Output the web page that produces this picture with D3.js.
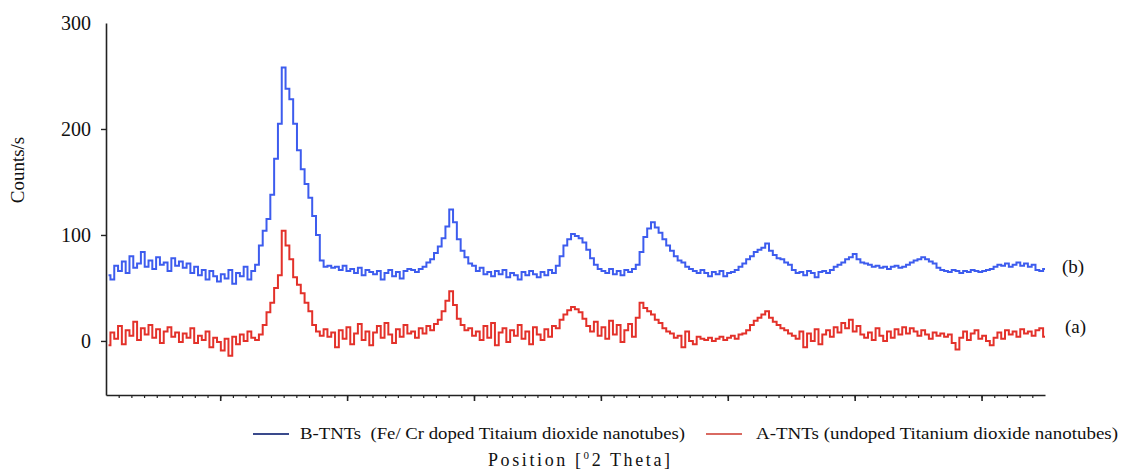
<!DOCTYPE html>
<html>
<head>
<meta charset="utf-8">
<script src="https://cdn.jsdelivr.net/npm/d3@7"></script>
<style>
  body { margin: 0; background: #fff; }
  svg { display: block; font-family: "Liberation Serif", "Times New Roman", serif; }
</style>
</head>
<body>
<div id="chart"></div>
<script>
// scan grid (degrees 2 theta)
const twoThetaStart = 11.2;
const twoThetaStep = 0.3;

// B-TNTs counts/s
const bTNTs = [
  62, 58, 71, 66, 75, 64, 80, 69, 73, 84,
  70, 76, 68, 79, 72, 74, 66, 78, 71, 75,
  69, 73, 64, 70, 62, 67, 58, 66, 61, 56,
  63, 59, 67, 54, 64, 61, 70, 58, 66, 72,
  90, 104, 115, 138, 172, 205, 258, 238, 228, 205,
  180, 162, 148, 135, 118, 100, 76, 70, 71, 69,
  70, 67, 71, 66, 68, 64, 69, 62, 67, 65,
  63, 66, 58, 64, 67, 61, 65, 59, 66, 68,
  67, 65, 68, 70, 74, 77, 83, 89, 97, 108,
  124, 112, 96, 85, 79, 73, 71, 66, 69, 63,
  65, 61, 66, 63, 67, 60, 64, 62, 58, 65,
  62, 66, 63, 60, 65, 62, 67, 64, 71, 80,
  90, 96, 101, 99, 97, 93, 86, 78, 72, 68,
  66, 64, 68, 63, 66, 62, 67, 65, 68, 72,
  84, 98, 106, 112, 107, 102, 96, 90, 85, 80,
  76, 74, 70, 68, 66, 64, 67, 64, 61, 65,
  63, 66, 61, 64, 65, 67, 70, 73, 77, 80,
  84, 86, 88, 92, 85, 81, 78, 77, 74, 72,
  67, 64, 65, 62, 66, 64, 60, 65, 66, 64,
  67, 70, 72, 74, 77, 79, 82, 77, 74, 73,
  72, 70, 71, 69, 70, 68, 70, 71, 69, 70,
  72, 74, 76, 77, 79, 77, 75, 73, 69, 67,
  66, 65, 67, 66, 64, 66, 65, 67, 66, 65,
  66, 67, 68, 70, 72, 71, 73, 70, 72, 74,
  71, 73, 70, 72, 67, 66, 68
];

// A-TNTs counts/s
const aTNTs = [
  -4, 8, 2, 14, -3, 10, 5, 18, 1, 12,
  6, 15, 3, 11, -2, 9, 13, 4, 8, -1,
  7, 3, 12, -2, 5, 1, 9, -6, 3, -1,
  -9, 2, -14, 4, -3, 6, 0, 9, 3, 1,
  6, 15, 27, 36, 50, 62, 104, 90, 77, 60,
  53, 45, 36, 28, 15, 9, 5, 11, 4, 8,
  -6, 10, 2, 13, -3, 7, 16, 1, 9, -4,
  8, 14, 3, 17, 6, -2, 11, 4, 15, 7,
  9, 3, 12, 7, 14, 10, 16, 20, 28, 38,
  47, 34, 21, 15, 10, 12, 5, 9, 1, 14,
  3, 17, -4, 8, 12, -1, 10, 5, 15, 2,
  9, -3, 13, 6, 1, 11, 4, 14, 12, 20,
  25, 29, 32, 30, 27, 21, 14, 9, 18, 5,
  13, 2, 19, 6, 15, -1, 10, 16, 4, 22,
  36, 31, 28, 25, 20, 17, 12, 9, 7, 3,
  5, -6, 9, 0, -3, 4, 2, 1, 3, 0,
  2, 4, 1, 3, 5, 2, 6, 7, 10, 15,
  19, 22, 25, 28, 22, 18, 15, 12, 10, 7,
  5, 2, 9, -6, 7, 0, 11, -3, 6, 10,
  4, 13, 8, 17, 12, 20, 9, 14, 6, 3,
  8, 1, 12, 5, 0, 9, 3, 11, 6, 13,
  7, 12, 9, 5, 10, 6, 2, 8, 5, 7,
  4, 6, -2, -8, 3, 9, 1, 7, 10, 2,
  5, 0, -4, 3, 8, 2, 10, 6, 9, 4,
  11, 7, 9, 5, 10, 12, 4
];

const yTicks = [0, 100, 200, 300];
const majorTicks = [20, 30, 40, 50, 60, 70, 80];
const minorTicks = d3.range(12, 85);
const seriesNames = [
  "B-TNTs  (Fe/ Cr doped Titaium dioxide nanotubes)",
  "A-TNTs (undoped Titanium dioxide nanotubes)"
];
const curveLabels = ["(b)", "(a)"];

const width = 1123, height = 470;

const svg = d3.select("#chart")
  .append("svg")
  .attr("width", width)
  .attr("height", height);

const x = d3.scaleLinear().domain([11, 85]).range([106, 1045]);
const y = d3.scaleLinear().domain([-51, 300]).range([395, 23]);

// x axis: minor + major ticks, no labels
svg.append("g")
  .attr("transform", `translate(0,${y(-51)})`)
  .call(d3.axisBottom(x).tickValues(minorTicks).tickSize(3).tickSizeOuter(0).tickFormat(""))
  .call(g => g.select(".domain").attr("stroke", "#222").attr("stroke-width", 1.6))
  .call(g => g.selectAll(".tick line").attr("stroke", "#222").attr("stroke-width", 1.2));

svg.append("g")
  .attr("transform", `translate(0,${y(-51)})`)
  .call(d3.axisBottom(x).tickValues(majorTicks).tickSize(6).tickSizeOuter(0).tickFormat(""))
  .call(g => g.select(".domain").remove())
  .call(g => g.selectAll(".tick line").attr("stroke", "#222").attr("stroke-width", 1.6));

// y axis
svg.append("g")
  .attr("transform", `translate(${x(11)},0)`)
  .call(d3.axisLeft(y).tickValues(yTicks).tickSize(5).tickSizeOuter(0).tickPadding(10))
  .call(g => g.select(".domain").attr("stroke", "#222").attr("stroke-width", 1.6))
  .call(g => g.selectAll(".tick line").attr("stroke", "#222").attr("stroke-width", 1.4))
  .call(g => g.selectAll(".tick").filter(d => d === 300).select("line").remove())
  .call(g => g.selectAll(".tick text")
    .attr("fill", "#111")
    .style("font-family", "'Liberation Serif', serif")
    .style("font-size", "20px"));

svg.append("text")
  .attr("transform", "translate(24,170) rotate(-90)")
  .attr("text-anchor", "middle")
  .style("font-size", "19px")
  .attr("fill", "#111")
  .text("Counts/s");

// series
const line = d3.line()
  .x((d, i) => x(twoThetaStart + i * twoThetaStep))
  .y(d => y(d))
  .curve(d3.curveStep);

const series = [
  { values: bTNTs, color: "#3d5cee" },
  { values: aTNTs, color: "#e3312a" }
];

svg.selectAll(".series")
  .data(series)
  .enter().append("path")
  .attr("class", "series")
  .attr("d", d => line(d.values))
  .attr("fill", "none")
  .attr("stroke", d => d.color)
  .attr("stroke-width", 2)
  .attr("stroke-linejoin", "miter");

// curve labels
svg.append("text").attr("x", 1062).attr("y", 273)
  .style("font-size", "19px").attr("fill", "#111").text(curveLabels[0]);
svg.append("text").attr("x", 1065).attr("y", 333)
  .style("font-size", "19px").attr("fill", "#111").text(curveLabels[1]);

// legend
const legend = [
  { name: seriesNames[0], color: "#3a4a8c", x0: 253, tx: 300, tw: 385 },
  { name: seriesNames[1], color: "#d96a62", x0: 706, tx: 756, tw: 362 }
];
const lg = svg.selectAll(".legend")
  .data(legend)
  .enter().append("g")
  .attr("class", "legend");
lg.append("line")
  .attr("x1", d => d.x0).attr("x2", d => d.x0 + 36)
  .attr("y1", 434).attr("y2", 434)
  .attr("stroke", d => d.color)
  .attr("stroke-width", 2.2);
lg.append("text")
  .attr("x", d => d.tx).attr("y", 439)
  .attr("textLength", d => d.tw)
  .attr("lengthAdjust", "spacingAndGlyphs")
  .style("font-size", "17px")
  .style("white-space", "pre")
  .attr("fill", "#111")
  .text(d => d.name);

// x axis title
const xt = svg.append("text")
  .attr("x", 488).attr("y", 466)
  .attr("textLength", 182)
  .attr("lengthAdjust", "spacing")
  .style("font-size", "18px")
  .attr("fill", "#111");
xt.append("tspan").text("Position [");
xt.append("tspan").attr("dy", -7).style("font-size", "11px").text("0");
xt.append("tspan").attr("dy", 7).text("2 Theta]");
</script>
</body>
</html>
